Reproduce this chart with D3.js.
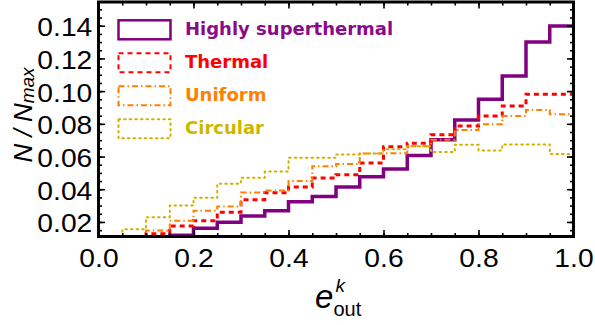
<!DOCTYPE html>
<html>
<head>
<meta charset="utf-8">
<script src="https://cdn.jsdelivr.net/npm/d3@7"></script>
<style>
  html, body { margin: 0; padding: 0; background: #fff; }
  svg { display: block; }
</style>
</head>
<body>
<svg id="chart" width="595" height="325"></svg>
<script>
// Histogram bins of the outer eccentricity e_out^k (20 bins of width 0.05).
const binEdges = [0.00, 0.05, 0.10, 0.15, 0.20, 0.25, 0.30, 0.35, 0.40, 0.45,
                  0.50, 0.55, 0.60, 0.65, 0.70, 0.75, 0.80, 0.85, 0.90, 0.95, 1.00];

// Normalised counts N / N_max per bin; null = below the plotted range.
const superthermal = [null, null, null, 0.0118, 0.0161, 0.0198, 0.0237, 0.0268, 0.0324, 0.0356,
                      0.0413, 0.0476, 0.0524, 0.0606, 0.0703, 0.0823, 0.0950, 0.1092, 0.1301, 0.1398];
const thermal      = [null, null, 0.0128, 0.0175, 0.0208, 0.0260, 0.0335, 0.0378, 0.0413, 0.0469,
                      0.0489, 0.0561, 0.0660, 0.0682, 0.0733, 0.0787, 0.0848, 0.0909, 0.0981, 0.0981];
const uniform      = [null, null, 0.0147, 0.0208, 0.0268, 0.0294, 0.0380, 0.0393, 0.0450, 0.0540,
                      0.0555, 0.0618, 0.0620, 0.0663, 0.0703, 0.0763, 0.0797, 0.0848, 0.0884, 0.0858];
const circular     = [null, 0.0155, 0.0229, 0.0300, 0.0348, 0.0434, 0.0471, 0.0508, 0.0592, 0.0592,
                      0.0612, 0.0618, 0.0645, 0.0663, 0.0627, 0.0672, 0.0637, 0.0674, 0.0674, 0.0615];

const seriesNames = ["Highly superthermal", "Thermal", "Uniform", "Circular"];
const seriesData  = [superthermal, thermal, uniform, circular];

const xTicksMajor = [0.0, 0.2, 0.4, 0.6, 0.8, 1.0];
const xTicksMinor = d3.range(0, 1.0001, 0.05);
const yTicksMajor = [0.02, 0.04, 0.06, 0.08, 0.10, 0.12, 0.14];
const yTicksMinor = d3.range(0.015, 0.1546, 0.005);

// Styling of each series (line colour, width, dash pattern, legend text colour).
const styles = [
  { stroke: "#800080", width: 3.5, dash: null,            text: "#8a0a8a" },
  { stroke: "#ff0000", width: 3,   dash: "5,4",           text: "#ff0000" },
  { stroke: "#ff7f00", width: 2,   dash: "6,3,1.5,3",     text: "#ff8000" },
  { stroke: "#d4b000", width: 2,   dash: "1.6,4",         text: "#ccb600" }
];

const svg = d3.select("#chart");
const plot = { left: 98.5, right: 573.5, top: 2, bottom: 236.5 };

const x = d3.scaleLinear().domain([0, 1]).range([plot.left, plot.right]);
const y = d3.scaleLinear().domain([0.0111, 0.1545]).range([plot.bottom, plot.top]);

svg.append("defs").append("clipPath").attr("id", "plotClip")
  .append("rect")
  .attr("x", plot.left).attr("y", plot.top)
  .attr("width", plot.right - plot.left).attr("height", plot.bottom - plot.top);

// Step lines: each bin value holds from its left edge to its right edge.
const floorVal = y.domain()[0] - 0.01;
const stepLine = d3.line()
  .x(d => x(d[0]))
  .y(d => y(d[1]))
  .curve(d3.curveStepAfter);

const linesG = svg.append("g").attr("clip-path", "url(#plotClip)");
seriesData.forEach((vals, i) => {
  const pts = vals.map((v, k) => [binEdges[k], v == null ? floorVal : v]);
  pts.push([binEdges[binEdges.length - 1], vals[vals.length - 1]]);
  const st = styles[i];
  linesG.append("path")
    .attr("d", stepLine(pts))
    .attr("fill", "none")
    .attr("stroke", st.stroke)
    .attr("stroke-width", st.width)
    .attr("stroke-dasharray", st.dash)
    .attr("stroke-linejoin", "miter")
    .attr("stroke-linecap", i === 3 ? "round" : "butt");
});

// Frame ticks (inward on all four sides).
function styleAxis(g) {
  g.select(".domain").remove();
  g.selectAll(".tick line").attr("stroke", "#000").attr("stroke-width", 1.6);
}
const stretch = "scale(1.13,1)";

svg.append("g").attr("transform", `translate(0,${plot.bottom})`)
  .call(d3.axisBottom(x).tickValues(xTicksMinor).tickSize(-3.5).tickFormat(""))
  .call(styleAxis);
const xAxis = svg.append("g").attr("transform", `translate(0,${plot.bottom})`)
  .call(d3.axisBottom(x).tickValues(xTicksMajor).tickSize(-6.5).tickPadding(12.5)
        .tickFormat(d3.format(".1f")))
  .call(styleAxis);
xAxis.selectAll("text")
  .attr("font-family", "'Liberation Sans', Arial, sans-serif")
  .attr("font-size", 25).attr("fill", "#000")
  .attr("transform", stretch);

svg.append("g").attr("transform", `translate(0,${plot.top})`)
  .call(d3.axisTop(x).tickValues(xTicksMinor).tickSize(-3.5).tickFormat(""))
  .call(styleAxis);
svg.append("g").attr("transform", `translate(0,${plot.top})`)
  .call(d3.axisTop(x).tickValues(xTicksMajor).tickSize(-6.5).tickFormat(""))
  .call(styleAxis);

svg.append("g").attr("transform", `translate(${plot.left},0)`)
  .call(d3.axisLeft(y).tickValues(yTicksMinor).tickSize(-3.5).tickFormat(""))
  .call(styleAxis);
const yAxis = svg.append("g").attr("transform", `translate(${plot.left},0)`)
  .call(d3.axisLeft(y).tickValues(yTicksMajor).tickSize(-6.5).tickPadding(5.5)
        .tickFormat(d3.format(".2f")))
  .call(styleAxis);
yAxis.selectAll("text")
  .attr("font-family", "'Liberation Sans', Arial, sans-serif")
  .attr("font-size", 25).attr("fill", "#000")
  .attr("dy", "0.40em")
  .attr("transform", stretch);

svg.append("g").attr("transform", `translate(${plot.right},0)`)
  .call(d3.axisRight(y).tickValues(yTicksMinor).tickSize(-3.5).tickFormat(""))
  .call(styleAxis);
svg.append("g").attr("transform", `translate(${plot.right},0)`)
  .call(d3.axisRight(y).tickValues(yTicksMajor).tickSize(-6.5).tickFormat(""))
  .call(styleAxis);

// Frame
svg.append("rect")
  .attr("x", plot.left).attr("y", plot.top)
  .attr("width", plot.right - plot.left).attr("height", plot.bottom - plot.top)
  .attr("fill", "none").attr("stroke", "#000").attr("stroke-width", 3);

// Legend
const legend = svg.append("g").attr("transform", "translate(118.5,30.3)");
const legendStep = 33;
seriesNames.forEach((name, i) => {
  const st = styles[i];
  const g = legend.append("g").attr("transform", `translate(0,${i * legendStep})`);
  g.append("rect")
    .attr("x", 0).attr("y", -10).attr("width", 52).attr("height", 19)
    .attr("fill", "none")
    .attr("stroke", st.stroke)
    .attr("stroke-width", i === 0 ? 2.5 : 2)
    .attr("stroke-dasharray", st.dash)
    .attr("stroke-linecap", i === 3 ? "round" : "butt");
  g.append("text")
    .attr("x", 66.5).attr("y", 4.8)
    .attr("font-family", "'DejaVu Sans', Verdana, sans-serif")
    .attr("font-weight", "bold")
    .attr("font-size", 18)
    .attr("fill", st.text)
    .text(name);
});

// Axis titles
const cx = (plot.left + plot.right) / 2;
const xTitle = svg.append("g").attr("font-family", "'Liberation Sans', Arial, sans-serif").attr("fill", "#000");
xTitle.append("text").attr("x", cx - 21).attr("y", 308)
  .attr("font-size", 33).attr("font-style", "italic").text("e");
xTitle.append("text").attr("x", cx - 0.5).attr("y", 292)
  .attr("font-size", 19).attr("font-style", "italic").text("k");
xTitle.append("text").attr("x", cx - 2.5).attr("y", 316)
  .attr("font-size", 20).text("out");

const cy = 115;
const yTitle = svg.append("text")
  .attr("transform", `translate(32,${cy}) rotate(-90)`)
  .attr("text-anchor", "middle")
  .attr("font-family", "'Liberation Sans', Arial, sans-serif")
  .attr("font-style", "italic")
  .attr("fill", "#000");
yTitle.append("tspan").attr("font-size", 26).text("N / N");
yTitle.append("tspan").attr("font-size", 19).attr("dy", 2).text("max");
</script>
</body>
</html>
